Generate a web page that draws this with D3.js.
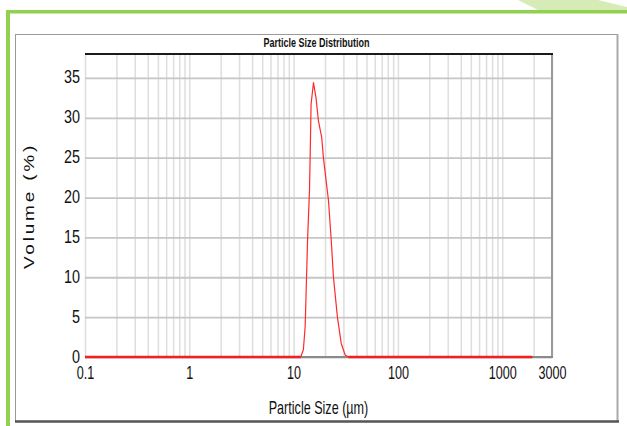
<!DOCTYPE html>
<html>
<head>
<meta charset="utf-8">
<script src="https://cdn.jsdelivr.net/npm/d3@7"></script>
<style>
  html, body { margin: 0; padding: 0; background: #fff; }
  svg { display: block; }
  text { font-family: "Liberation Sans", Arial, sans-serif; fill: #111; }
</style>
</head>
<body>
<script>
// ---- data ----
const chartTitle = "Particle Size Distribution";
const xAxisTitle = "Particle Size (\u00b5m)";
const yAxisTitle = "Volume (%)";
const xTickValues = [0.1, 1, 10, 100, 1000, 3000];
const xTickLabels = ["0.1", "1", "10", "100", "1000", "3000"];
const yTickValues = [0, 5, 10, 15, 20, 25, 30, 35];
const sizes =   [0.1, 11.7, 12.4, 12.9, 13.2, 13.6, 14.2, 14.4, 14.7, 15.5, 16.4, 17.3, 18.6, 19.3, 20.5, 21.6, 22.9, 24.1, 26.3, 28.6, 31.2, 33.6, 1940];
const volumes = [0,   0,    0.9,  3.8,  8.4,  14.6, 20.9, 25,   31.7, 34.4, 32.5, 29.6, 27.5, 25,   22.1, 19.6, 14.8, 10,   5,    1.7,  0.25, 0,    0];

const W = 627, H = 426;
const plot = { left: 85, right: 552, top: 54, bottom: 357 };

const svg = d3.select("body").append("svg").attr("width", W).attr("height", H);

// green decorative border
svg.append("path")
  .attr("d", "M518,0 L538,10 L627,10 L627,7 L598,0 Z")
  .attr("fill", "#d6ebb6");
svg.append("rect").attr("x", 6).attr("y", 10).attr("width", 621).attr("height", 3.5).attr("fill", "#92d050");
svg.append("rect").attr("x", 6).attr("y", 10).attr("width", 4).attr("height", 416).attr("fill", "#92d050");

// outer chart frame
svg.append("rect").attr("x", 15.5).attr("y", 34.5).attr("width", 602).attr("height", 387)
  .attr("fill", "#fff").attr("stroke", "#9a9a9a").attr("stroke-width", 1);
svg.append("line").attr("x1", 617.5).attr("x2", 617.5).attr("y1", 34).attr("y2", 422)
  .attr("stroke", "#aaa").attr("stroke-width", 2);
svg.append("line").attr("x1", 15).attr("x2", 619).attr("y1", 421.5).attr("y2", 421.5)
  .attr("stroke", "#555").attr("stroke-width", 2.5);

// scales
const x = d3.scaleLog().domain([0.1, 3000]).range([plot.left, plot.right]);
const y = d3.scaleLinear().domain([0, 38]).range([plot.bottom, plot.top]);

// vertical grid (log minor ticks)
const vg = svg.append("g").attr("transform", `translate(0,${plot.bottom})`)
  .call(d3.axisBottom(x).tickValues(x.ticks()).tickSize(-(plot.bottom - plot.top)).tickFormat(""));
vg.select(".domain").remove();
vg.selectAll("line").attr("stroke", "#dedede").attr("stroke-width", 1.5);

// horizontal grid
const hg = svg.append("g").attr("transform", `translate(${plot.left},0)`)
  .call(d3.axisLeft(y).tickValues(yTickValues).tickSize(-(plot.right - plot.left)).tickFormat(""));
hg.select(".domain").remove();
hg.selectAll("line").attr("stroke", "#c6c6c6").attr("stroke-width", 1.8);

// plot borders
svg.append("line").attr("x1", plot.right).attr("x2", plot.right).attr("y1", plot.top).attr("y2", plot.bottom)
  .attr("stroke", "#9a9a9a").attr("stroke-width", 2);
svg.append("line").attr("x1", plot.left).attr("x2", plot.right + 1).attr("y1", plot.bottom).attr("y2", plot.bottom)
  .attr("stroke", "#8a8a8a").attr("stroke-width", 2);
svg.append("line").attr("x1", plot.left).attr("x2", plot.right + 1).attr("y1", plot.top).attr("y2", plot.top)
  .attr("stroke", "#1a1a1a").attr("stroke-width", 2.2);

// x axis labels
const xa = svg.append("g").attr("transform", `translate(0,${plot.bottom})`)
  .call(d3.axisBottom(x).tickValues(xTickValues).tickSize(0).tickFormat((d, i) => xTickLabels[i]));
xa.select(".domain").remove();
xa.selectAll("text")
  .attr("y", null).attr("dy", null)
  .attr("transform", "translate(0,22) scale(0.7,1)")
  .attr("font-size", 18).attr("fill", "#111")
  .style("font-family", '"Liberation Sans", Arial, sans-serif');

// y axis labels
const ya = svg.append("g").attr("transform", `translate(${plot.left},0)`)
  .call(d3.axisLeft(y).tickValues(yTickValues).tickSize(0).tickFormat(d3.format("d")));
ya.select(".domain").remove();
ya.selectAll("text")
  .attr("x", null).attr("dy", null)
  .attr("transform", "translate(-5,5) scale(0.8,1)")
  .attr("text-anchor", "end")
  .attr("font-size", 18).attr("fill", "#111")
  .style("font-family", '"Liberation Sans", Arial, sans-serif');

// titles
svg.append("text")
  .attr("transform", `translate(${(plot.left + plot.right) / 2 - 2},47) scale(0.72,1)`)
  .attr("text-anchor", "middle").attr("font-size", 12.5).attr("font-weight", "bold")
  .text(chartTitle);
svg.append("text")
  .attr("transform", `translate(${(plot.left + plot.right) / 2},414) scale(0.7,1)`)
  .attr("text-anchor", "middle").attr("font-size", 18)
  .text(xAxisTitle);
svg.append("text")
  .attr("transform", "translate(34,206) rotate(-90) scale(1,0.75)")
  .attr("text-anchor", "middle").attr("font-size", 19).attr("letter-spacing", 2.8)
  .text(yAxisTitle);

// data
const pts = sizes.map((s, i) => ({ s, v: volumes[i] }));
const line = d3.line().x(d => x(d.s)).y(d => y(d.v));

// zero segments drawn heavier (as on the baseline)
const zeroSegs = [];
for (let i = 0; i < pts.length - 1; i++) {
  if (pts[i].v === 0 && pts[i + 1].v === 0) zeroSegs.push([pts[i], pts[i + 1]]);
}
svg.append("g").selectAll("path").data(zeroSegs).join("path")
  .attr("d", line).attr("fill", "none").attr("stroke", "#e01818").attr("stroke-width", 2.6);

svg.append("path").datum(pts)
  .attr("d", line).attr("fill", "none").attr("stroke", "#ff2a2a").attr("stroke-width", 1.2)
  .attr("stroke-linejoin", "round");
</script>
</body>
</html>
